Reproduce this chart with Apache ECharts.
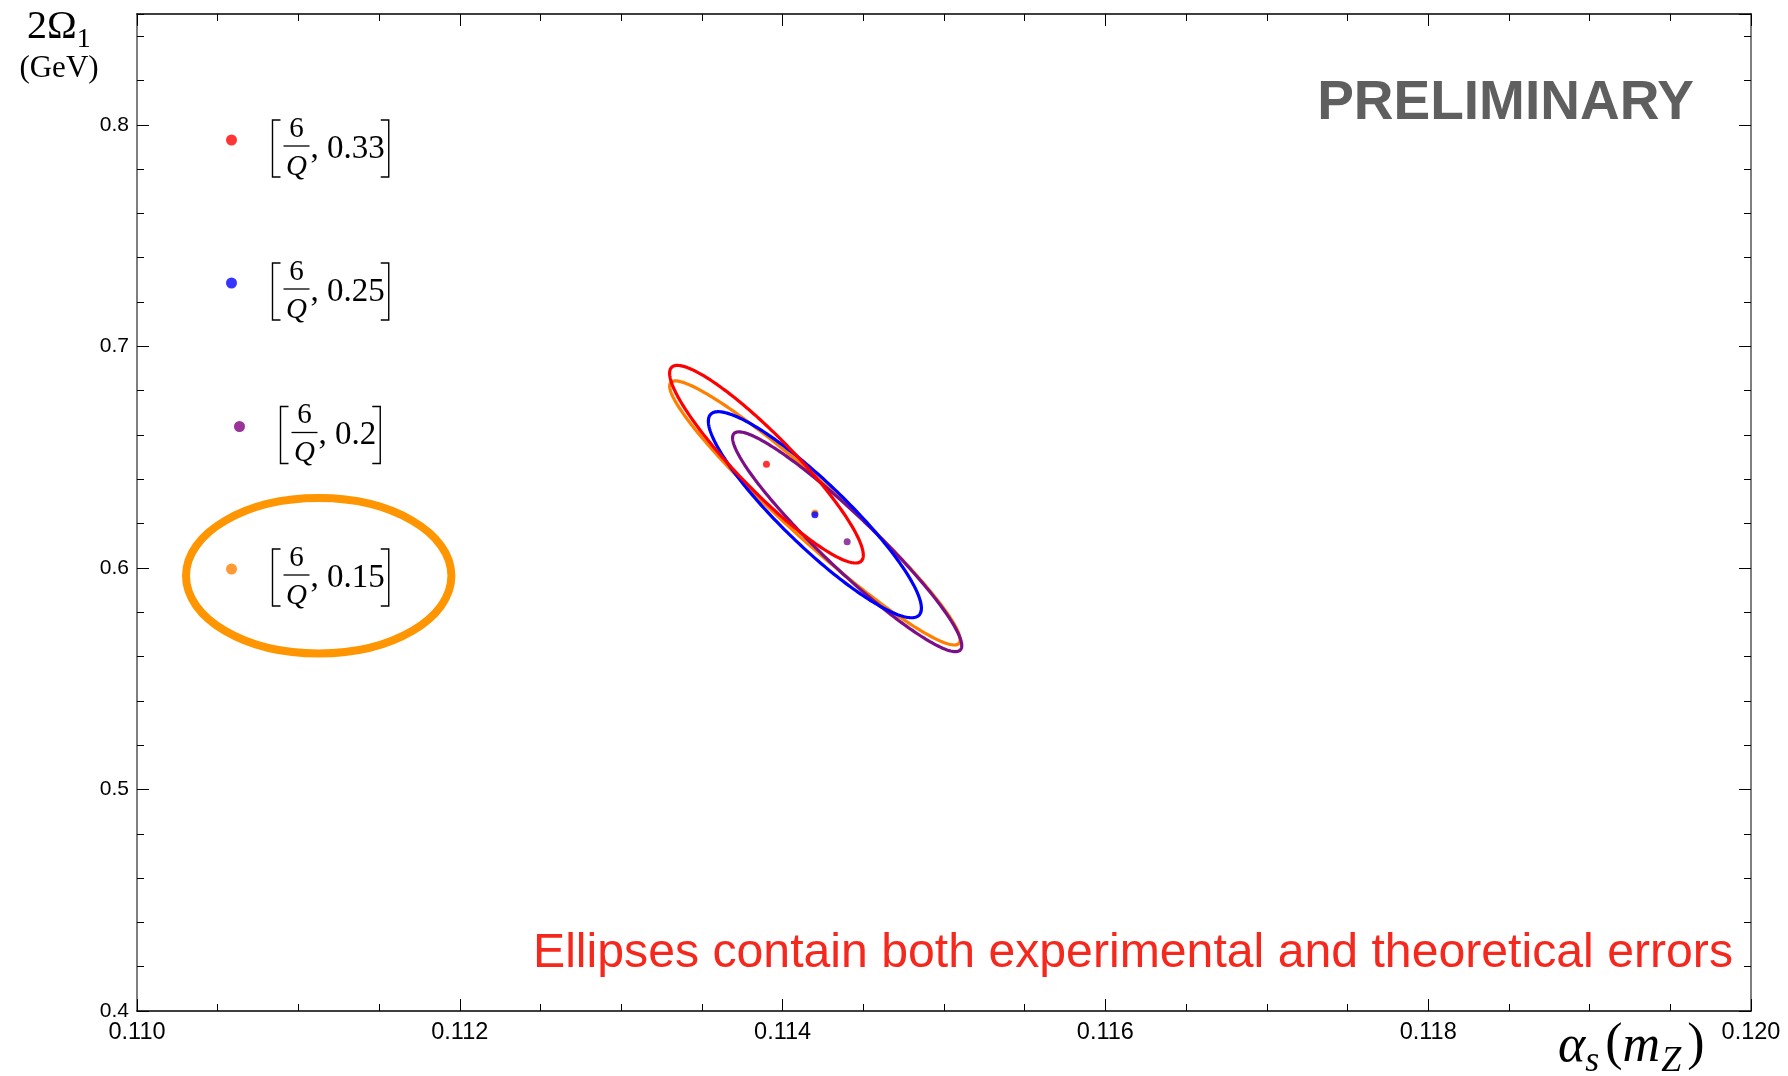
<!DOCTYPE html>
<html>
<head>
<meta charset="utf-8">
<script src="https://cdn.jsdelivr.net/npm/echarts@6/dist/echarts.min.js"></script>
<style>
  html, body { margin: 0; padding: 0; background: #ffffff; }
  #chart { width: 1788px; height: 1076px; }
</style>
</head>
<body>
<div id="chart"></div>
<script>
// Axis ranges and tick steps
const xRange = [0.110, 0.120];
const xStep = 0.002;
const yRange = [0.4, 0.85];
const yStep = 0.1;
const yMinorStep = 0.02;

// Fits: Q-dependence 6/Q with the listed second parameter
const fitSlopes = ['0.33', '0.25', '0.2', '0.15'];
// Best-fit points
const centerAlphaS = [0.11390, 0.11420, 0.11440, 0.11420];
const centerOmega  = [0.6468, 0.6240, 0.6118, 0.6248];
// One-sigma widths and correlation of each error ellipse
const sigmaAlphaS  = [0.00060, 0.00066, 0.00071, 0.00090];
const sigmaOmega   = [0.0446, 0.0465, 0.0496, 0.0596];
const correlation  = [-0.92, -0.907, -0.945, -0.96];

const lineColors = ['#ff0000', '#0000ff', '#7b0f87', '#ff8000'];
const keyColors  = ['#ff3535', '#3535ff', '#993399', '#ff9933'];
const drawOrder  = [3, 2, 1, 0];

const serif = '"Liberation Serif", "DejaVu Serif", serif';
const sans = '"Liberation Sans", Arial, Helvetica, sans-serif';

const measureCtx = document.createElement('canvas').getContext('2d');
function textWidth(str, font) { measureCtx.font = font; return measureCtx.measureText(str).width; }

function txt(str, x, y, font, opts) {
  opts = opts || {};
  return {
    type: 'text', z: 100,
    style: {
      text: str, x: x, y: y, font: font,
      fill: opts.fill || '#000',
      align: opts.align || 'left', textAlign: opts.align || 'left',
      verticalAlign: opts.va || 'middle', textVerticalAlign: opts.va || 'middle'
    }
  };
}
function bracket(x, top, bot, dir) {
  return {
    type: 'polyline', z: 100,
    shape: { points: [[x + dir * 8, top], [x, top], [x, bot], [x + dir * 8, bot]] },
    style: { stroke: '#000', lineWidth: 1.4, fill: 'none' }
  };
}

// Key entries at the upper left
const keyDots = [[231.5, 140], [231.5, 283], [239.5, 426.5], [231.5, 569]];
const keyElements = [];
fitSlopes.forEach((slope, i) => {
  const dx = keyDots[i][0], dy = keyDots[i][1];
  keyElements.push({ type: 'circle', z: 100, shape: { cx: dx, cy: dy, r: 5.5 }, style: { fill: keyColors[i] } });
  const bx = dx + 41, top = dy - 20, bot = dy + 37;
  keyElements.push(bracket(bx, top, bot, 1));
  const fx = bx + 24;
  keyElements.push(txt('6', fx, dy - 11, '29px ' + serif, { align: 'center' }));
  keyElements.push({ type: 'line', z: 100, shape: { x1: fx - 13, y1: dy + 6, x2: fx + 13, y2: dy + 6 }, style: { stroke: '#000', lineWidth: 1.3 } });
  keyElements.push(txt('Q', fx, dy + 27, 'italic 29px ' + serif, { align: 'center' }));
  const tail = ', ' + slope;
  const tfont = '33px ' + serif;
  const tx = fx + 14;
  keyElements.push(txt(tail, tx, dy + 9, tfont));
  keyElements.push(bracket(tx + textWidth(tail, tfont) + 4, top, bot, -1));
});

// Axis names built from pieces (italic symbols with subscripts)
function pieces(list, x0) {
  const out = [];
  let x = x0;
  list.forEach(p => {
    out.push(txt(p.t, x, p.y, p.font));
    x += textWidth(p.t, p.font) + (p.gap || 0);
  });
  return out;
}
const xName = pieces([
  { t: 'α', y: 1047, font: 'italic 52px ' + serif },
  { t: 's', y: 1062, font: 'italic 36px ' + serif, gap: 6 },
  { t: '(', y: 1045, font: '52px ' + serif },
  { t: 'm', y: 1047, font: 'italic 52px ' + serif, gap: 1 },
  { t: 'Z', y: 1062, font: 'italic 36px ' + serif, gap: 6 },
  { t: ')', y: 1045, font: '52px ' + serif }
], 1558);
const yName = pieces([
  { t: '2Ω', y: 27, font: '40px ' + serif },
  { t: '1', y: 40, font: '28px ' + serif }
], 27);

const majorTick = { inside: true, length: 12, lineStyle: { color: '#000', width: 1 } };
const minorTickY = { inside: true, length: 7, lineStyle: { color: '#000', width: 1 } };
const frameDark = { show: true, onZero: false, lineStyle: { color: '#000', width: 1.5 } };
const frameGray = { show: true, onZero: false, lineStyle: { color: '#7f7f7f', width: 2 } };

function xAxisDef(pos, labels) {
  return {
    type: 'value', position: pos, min: xRange[0], max: xRange[1], interval: xStep,
    axisLine: frameDark, axisTick: majorTick,
    minorTick: { show: true, splitNumber: 4, length: 7, lineStyle: { color: '#000', width: 1 } },
    splitLine: { show: false }, minorSplitLine: { show: false },
    axisLabel: labels ? { show: true, formatter: v => v.toFixed(3), fontFamily: sans, fontSize: 23.5, color: '#000', margin: 10 } : { show: false }
  };
}
function yAxisDef(pos, labels) {
  return {
    type: 'value', position: pos, min: yRange[0], max: yRange[1], interval: yStep,
    axisLine: frameGray, axisTick: majorTick,
    splitLine: { show: false },
    axisLabel: labels ? { show: true, formatter: v => v.toFixed(1), showMaxLabel: false, fontFamily: sans, fontSize: 21, color: '#000', margin: 8 } : { show: false }
  };
}
function yMinorDef(pos) {
  return {
    type: 'value', position: pos, min: yRange[0], max: yRange[1], interval: yMinorStep,
    axisLine: { show: false }, axisTick: minorTickY, splitLine: { show: false }, axisLabel: { show: false }
  };
}

const ellipseSeries = drawOrder.map((i, k) => ({
  type: 'custom', name: '6/Q, ' + fitSlopes[i], xAxisIndex: 0, yAxisIndex: 0, clip: true, z: 3 + k,
  data: [[centerAlphaS[i], centerOmega[i], sigmaAlphaS[i], sigmaOmega[i], correlation[i]]],
  encode: { x: 0, y: 1 },
  renderItem: (params, api) => {
    const cx = api.value(0), cy = api.value(1), sx = api.value(2), sy = api.value(3), r = api.value(4);
    const q = Math.sqrt(1 - r * r);
    const pts = [];
    for (let n = 0; n < 240; n++) {
      const t = 2 * Math.PI * n / 240;
      pts.push(api.coord([cx + sx * Math.cos(t), cy + sy * (r * Math.cos(t) + q * Math.sin(t))]));
    }
    return { type: 'polygon', shape: { points: pts }, style: { fill: 'none', stroke: lineColors[i], lineWidth: 3.2 } };
  }
}));
const pointSeries = drawOrder.map((i, k) => ({
  type: 'scatter', xAxisIndex: 0, yAxisIndex: 0, z: 10 + k, symbol: 'circle', symbolSize: 7,
  itemStyle: { color: lineColors[i] },
  data: [[centerAlphaS[i], centerOmega[i]]]
}));

const chart = echarts.init(document.getElementById('chart'));
chart.setOption({
  animation: false,
  backgroundColor: '#ffffff',
  grid: { left: 137, right: 37, top: 14, bottom: 65, outerBoundsMode: 'none' },
  xAxis: [xAxisDef('bottom', true), xAxisDef('top', false)],
  yAxis: [yAxisDef('left', true), yMinorDef('left'), yAxisDef('right', false), yMinorDef('right')],
  series: ellipseSeries.concat(pointSeries),
  graphic: keyElements.concat(xName, yName, [
    txt('(GeV)', 59, 69, '31px ' + serif, { align: 'center' }),
    txt('PRELIMINARY', 1694, 104, 'bold 55px ' + sans, { align: 'right', fill: '#5f5f5f' }),
    txt('Ellipses contain both experimental and theoretical errors', 1733, 954, '48.2px ' + sans, { align: 'right', fill: '#f5281e' }),
    { type: 'ellipse', z: 100, shape: { cx: 318.7, cy: 575.8, rx: 132.7, ry: 77.7 }, style: { fill: 'none', stroke: '#ff9500', lineWidth: 8 } }
  ])
});
</script>
</body>
</html>
